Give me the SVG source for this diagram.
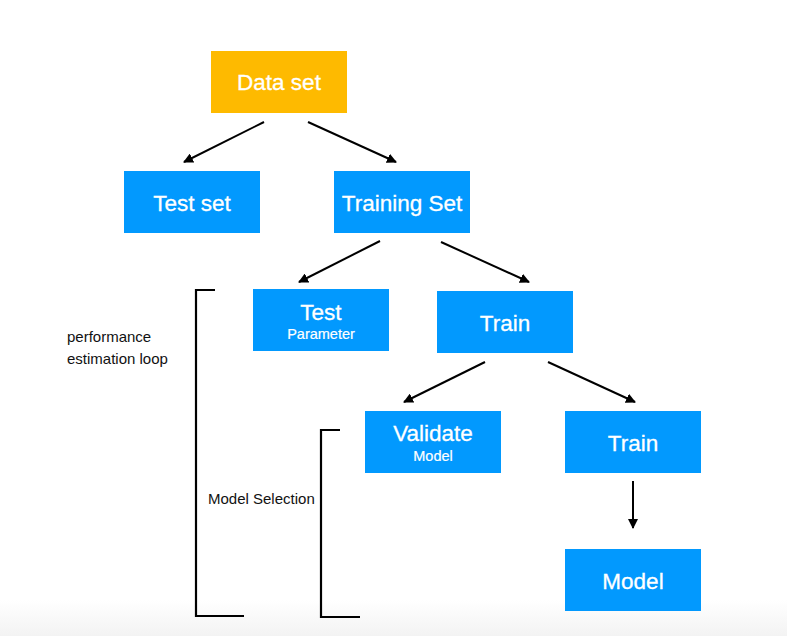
<svg xmlns="http://www.w3.org/2000/svg" width="787" height="636" viewBox="0 0 787 636">
  <defs>
    <linearGradient id="floor" x1="0" y1="0" x2="0" y2="1">
      <stop offset="0" stop-color="#ffffff"/>
      <stop offset="1" stop-color="#f3f3f3"/>
    </linearGradient>
    <marker id="arr" viewBox="0 0 10 10" refX="9" refY="5" markerWidth="10" markerHeight="10" markerUnits="userSpaceOnUse" orient="auto">
      <path d="M0,0 L10,5 L0,10 z" fill="#000"/>
    </marker>
  </defs>
  <style>
    .blue { fill: #0299FE; }
    .amber { fill: #FEBA00; }
    .lbl { font-family: "Liberation Sans", Arial, sans-serif; fill: #ffffff; text-anchor: middle; font-size: 22.5px; stroke: #ffffff; stroke-width: 0.3px; }
    .sub { font-family: "Liberation Sans", Arial, sans-serif; fill: #ffffff; text-anchor: middle; font-size: 14.5px; stroke: #ffffff; stroke-width: 0.2px; }
    .note { font-family: "Liberation Sans", Arial, sans-serif; fill: #111111; font-size: 15px; }
    .conn { stroke: #000; stroke-width: 2; fill: none; }
    .brk { stroke: #000; stroke-width: 2.2; fill: none; }
  </style>
  <rect x="0" y="0" width="787" height="636" fill="#ffffff"/>
  <rect x="0" y="600" width="787" height="36" fill="url(#floor)"/>

  <g id="data-set">
    <rect class="amber" x="211" y="51" width="136" height="62"/>
    <text class="lbl" x="279" y="90">Data set</text>
  </g>
  <g id="test-set">
    <rect class="blue" x="124" y="171" width="136" height="62"/>
    <text class="lbl" x="192" y="211">Test set</text>
  </g>
  <g id="training-set">
    <rect class="blue" x="334" y="171" width="136" height="62"/>
    <text class="lbl" x="402" y="211">Training Set</text>
  </g>
  <g id="test-parameter">
    <rect class="blue" x="253" y="289" width="136" height="62"/>
    <text class="lbl" x="321" y="320">Test</text>
    <text class="sub" x="321" y="339">Parameter</text>
  </g>
  <g id="train-1">
    <rect class="blue" x="437" y="291" width="136" height="62"/>
    <text class="lbl" x="505" y="331">Train</text>
  </g>
  <g id="validate-model">
    <rect class="blue" x="365" y="411" width="136" height="62"/>
    <text class="lbl" x="433" y="441">Validate</text>
    <text class="sub" x="433" y="461">Model</text>
  </g>
  <g id="train-2">
    <rect class="blue" x="565" y="411" width="136" height="62"/>
    <text class="lbl" x="633" y="451">Train</text>
  </g>
  <g id="model">
    <rect class="blue" x="565" y="549" width="136" height="62"/>
    <text class="lbl" x="633" y="589">Model</text>
  </g>

  <g id="performance-loop">
    <path class="brk" d="M215,290 H196 V616 H244"/>
    <text class="note" x="67" y="342">performance</text>
    <text class="note" x="67" y="364">estimation loop</text>
  </g>
  <g id="model-selection">
    <path class="brk" d="M340,430 H321 V617 H360"/>
    <text class="note" x="208" y="504">Model Selection</text>
  </g>

  <g id="connectors">
    <line class="conn" x1="264" y1="122" x2="184" y2="162" marker-end="url(#arr)"/>
    <line class="conn" x1="308" y1="122" x2="396" y2="162" marker-end="url(#arr)"/>
    <line class="conn" x1="380" y1="241" x2="299" y2="282" marker-end="url(#arr)"/>
    <line class="conn" x1="441" y1="242" x2="529" y2="282" marker-end="url(#arr)"/>
    <line class="conn" x1="485" y1="362" x2="404" y2="402" marker-end="url(#arr)"/>
    <line class="conn" x1="548" y1="362" x2="635" y2="402" marker-end="url(#arr)"/>
    <line class="conn" x1="633" y1="481" x2="633" y2="528" marker-end="url(#arr)"/>
  </g>
</svg>
